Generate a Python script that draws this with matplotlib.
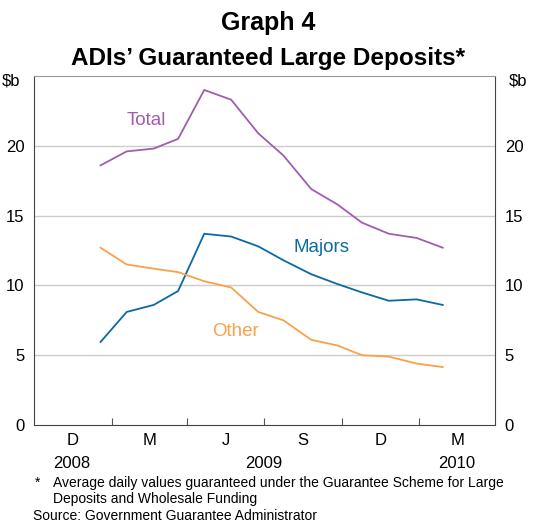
import matplotlib
matplotlib.use("Agg")
import matplotlib.pyplot as plt
import pandas as pd

plt.rcParams['font.family'] = ['Liberation Sans', 'DejaVu Sans']

# Dados ($ bilhões)
dates = pd.to_datetime(['2008-12-19', '2009-01-19', '2009-02-20', '2009-03-21',
                        '2009-04-21', '2009-05-23', '2009-06-24', '2009-07-24',
                        '2009-08-26', '2009-09-26', '2009-10-25', '2009-11-26',
                        '2009-12-29', '2010-01-29'])
total = [18.6, 19.6, 19.8, 20.5, 24.0, 23.3, 20.9, 19.3, 16.9, 15.8, 14.5, 13.7, 13.4, 12.7]
majors = [5.95, 8.1, 8.6, 9.6, 13.7, 13.5, 12.8, 11.8, 10.8, 10.1, 9.5, 8.9, 9.0, 8.6]
other = [12.7, 11.5, 11.2, 10.95, 10.3, 9.85, 8.1, 7.5, 6.1, 5.7, 5.0, 4.9, 4.4, 4.15]

quarter_labels = ['D', 'M', 'J', 'S', 'D', 'M']
quarter_starts = pd.to_datetime(['2008-10-01', '2009-01-01', '2009-04-01', '2009-07-01',
                                 '2009-10-01', '2010-01-01', '2010-04-01'])
years = ['2008', '2009', '2010']
year_pos = pd.to_datetime(['2008-11-15', '2009-07-01', '2010-02-14'])
y_ticks = [0, 5, 10, 15, 20]

c_total = '#a25cae'
c_majors = '#0a6aa1'
c_other = '#f7a24b'

fig = plt.figure(figsize=(5.37, 5.22), dpi=100)
ax = fig.add_axes([0.0633, 0.1858, 0.8585, 0.6686])

ax.plot(dates, total, color=c_total, lw=1.3)
ax.plot(dates, majors, color=c_majors, lw=1.3)
ax.plot(dates, other, color=c_other, lw=1.3)

ax.set_xlim(quarter_starts[0], quarter_starts[-1])
ax.set_ylim(0, 25)

# grade horizontal
for v in y_ticks[1:]:
    ax.axhline(v, color='#cccccc', lw=1, zorder=0)

# eixo y dos dois lados
ax.set_yticks(y_ticks)
ax.tick_params(axis='y', length=0, labelsize=12, pad=7, labelright=True, right=False)
ax.text(-0.03, 0.985, '$b', transform=ax.transAxes, ha='right', va='center', fontsize=12)
ax.text(1.03, 0.985, '$b', transform=ax.transAxes, ha='left', va='center', fontsize=12)

# eixo x: marcas nos limites dos trimestres, rótulos no meio
ax.set_xticks(quarter_starts[1:-1])
ax.set_xticklabels([])
ax.tick_params(axis='x', direction='in', length=5, color='#555555')
centers = [quarter_starts[i] + (quarter_starts[i + 1] - quarter_starts[i]) / 2
           for i in range(len(quarter_labels))]
trans = ax.get_xaxis_transform()
for c, lab in zip(centers, quarter_labels):
    ax.text(c, -0.045, lab, transform=trans, ha='center', va='center', fontsize=12)
for p, lab in zip(year_pos, years):
    ax.text(p, -0.11, lab, transform=trans, ha='center', va='center', fontsize=12)

for s in ['left', 'right', 'bottom']:
    ax.spines[s].set_color('#444444')
ax.spines['top'].set_color('#999999')

# rótulos das séries
ax.text(pd.Timestamp('2009-02-11'), 21.8, 'Total', color=c_total, fontsize=13.5, ha='center', va='center')
ax.text(pd.Timestamp('2009-09-07'), 12.7, 'Majors', color=c_majors, fontsize=13.5, ha='center', va='center')
ax.text(pd.Timestamp('2009-05-28'), 6.7, 'Other', color=c_other, fontsize=13.5, ha='center', va='center')

fig.text(0.5, 0.9416, 'Graph 4', ha='center', va='baseline', fontsize=18, fontweight='bold')
fig.text(0.5, 0.8755, 'ADIs\u2019 Guaranteed Large Deposits*', ha='center', va='baseline',
         fontsize=17.5, fontweight='bold')

# notas de rodapé
fig.text(0.065, 0.067, '*', ha='left', va='baseline', fontsize=10)
fig.text(0.0987, 0.067, 'Average daily values guaranteed under the Guarantee Scheme for Large',
         ha='left', va='baseline', fontsize=10)
fig.text(0.0987, 0.0364, 'Deposits and Wholesale Funding', ha='left', va='baseline', fontsize=10)
fig.text(0.0615, 0.0038, 'Source: Government Guarantee Administrator', ha='left', va='baseline', fontsize=10)

fig.savefig('out.png', dpi=100)
